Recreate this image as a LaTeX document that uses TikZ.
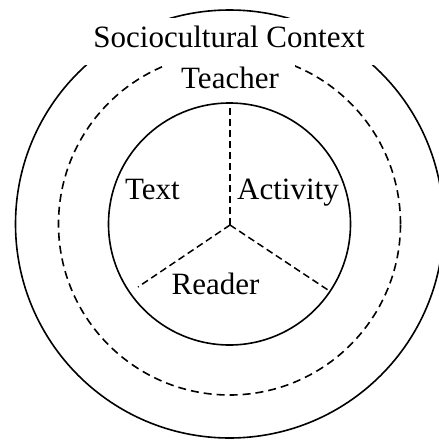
\documentclass[tikz,border=0pt]{standalone}
\usepackage{fontspec}
\setmainfont{Liberation Serif}
\begin{document}
\begin{tikzpicture}[x=1pt,y=-1pt,
  lbl/.style={font=\fontsize{31}{36}\selectfont, inner sep=0pt},
  ring/.style={line width=1.6pt},
  dashring/.style={line width=1.6pt, dash pattern=on 8pt off 5pt},
  radial/.style={line width=1.5pt, dash pattern=on 7pt off 4pt}]
\useasboundingbox (0,0) rectangle (439,440);
\coordinate (c) at (229.5,224);
\draw[ring] (c) circle[radius=214pt];
\draw[dashring] (c) circle[radius=171pt];
\node[lbl, fill=white, text height=29pt, text depth=18pt, inner xsep=12pt, anchor=base] (ctx) at (229,47) {Sociocultural Context};
\node[lbl, fill=white, text height=37pt, text depth=10pt, inner xsep=16pt, anchor=base] (teacher) at (230,88) {Teacher};
\draw[ring] (c) circle[radius=121pt];
\coordinate (hub) at (230,225);
\coordinate (e1) at (230,103);
\coordinate (e2) at (138,287);
\coordinate (e3) at (328,290);
\draw[radial] (hub) -- (e1);
\draw[radial] (hub) -- (e2);
\draw[radial] (hub) -- (e3);
\node[lbl, anchor=base] (text) at (152.5,199) {Text};
\node[lbl, anchor=base] (activity) at (288,199) {Activity};
\node[lbl, anchor=base] (reader) at (215.5,294) {Reader};
\end{tikzpicture}
\end{document}
